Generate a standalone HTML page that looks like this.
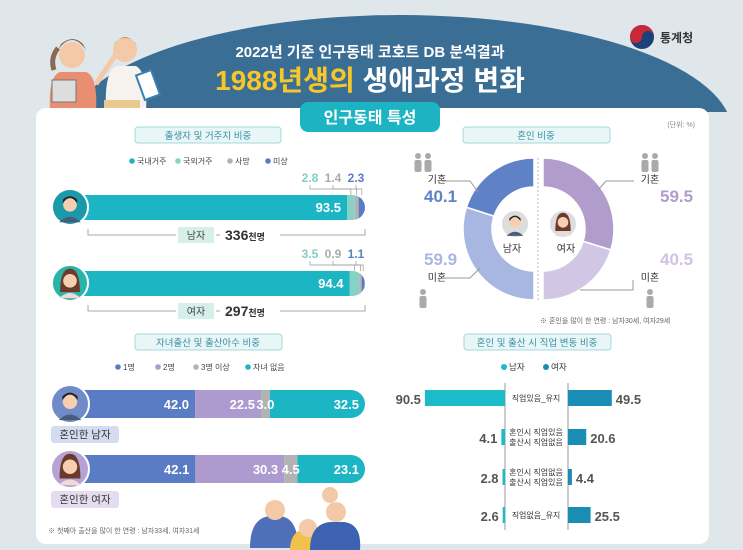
<!DOCTYPE html>
<html><head><meta charset="utf-8"><style>
html,body{margin:0;padding:0;background:#dfe7eb;}
svg{display:block;font-family:"Liberation Sans","Noto Sans CJK KR",sans-serif;}
.c{text-anchor:middle}
</style></head><body>
<svg id="s" width="743" height="550" viewBox="0 0 743 550">
<rect x="0" y="0" width="743" height="550" fill="#dfe7eb"/>
<clipPath id="dc"><rect x="0" y="0" width="743" height="112"/></clipPath>
<ellipse cx="400" cy="132" rx="332" ry="117" fill="#3b6e95" clip-path="url(#dc)"/>
<g>
<circle cx="72" cy="55" r="13" fill="#f3c9a8"/><path d="M58 50 q14-20 28 0 l-3-6 q-10-10-22 0z" fill="#8a6a55"/><path d="M58 48 q-8 10 -4 22" stroke="#8a6a55" stroke-width="5" fill="none"/>
<path d="M50 112 q-2-36 10-40 h26 q12 4 10 40z" fill="#e98e70"/>
<rect x="52" y="80" width="24" height="22" fill="#ddd" stroke="#777"/>
<path d="M96 84 l20-30" stroke="#f3c9a8" stroke-width="5"/>
<circle cx="125" cy="50" r="12" fill="#f3c9a8"/><path d="M113 46 q12-18 24 0 q-4-8-12-8 q-8 0-12 8z" fill="#d9874c"/>
<path d="M106 112 q-2-40 10-46 h20 q12 6 10 46z" fill="#f6f3ef"/>
<rect x="104" y="100" width="36" height="12" fill="#e9c98e"/>
<rect x="140" y="72" width="16" height="26" fill="#fff" stroke="#3a80b0" stroke-width="2" transform="rotate(-20 148 85)"/>
</g>
<text x="370" y="57" class="c" font-size="15" font-weight="bold" fill="#fff">2022년 기준 인구동태 코호트 DB 분석결과</text>
<text x="370" y="90" class="c" font-size="28" font-weight="bold"><tspan fill="#f7c72a">1988년생의</tspan><tspan fill="#fff"> 생애과정 변화</tspan></text>
<g>
<circle cx="642" cy="37" r="12" fill="#1d3f7a"/><path d="M630 37 a12 12 0 0 1 24 0 a6 6 0 0 0-12 0 a6 6 0 0 1-12 0z" fill="#c8283a"/>
<text x="660" y="42" font-size="12" font-weight="bold" fill="#333">통계청</text>
</g>
<rect x="36" y="108" width="673" height="436" rx="10" fill="#fff"/>
<rect x="300" y="102" width="140" height="30" rx="8" fill="#1cb3c3"/>
<text x="370" y="123" class="c" font-size="16" font-weight="bold" fill="#fff">인구동태 특성</text>
<text x="695" y="127" font-size="7" fill="#888" text-anchor="end">(단위: %)</text>

<g>
<rect x="135" y="127" width="146" height="16" rx="3" fill="#e8f6f7" stroke="#a6d9dc"/><text x="208" y="139" class="c" font-size="9.5" fill="#3a8fa0">출생자 및 거주지 비중</text>
<rect x="463" y="127" width="147" height="16" rx="3" fill="#e8f6f7" stroke="#a6d9dc"/><text x="536" y="139" class="c" font-size="9.5" fill="#3a8fa0">혼인 비중</text>
<rect x="135" y="334" width="147" height="16" rx="3" fill="#e8f6f7" stroke="#a6d9dc"/><text x="208" y="346" class="c" font-size="9.5" fill="#3a8fa0">자녀출산 및 출산아수 비중</text>
<rect x="464" y="334" width="147" height="16" rx="3" fill="#e8f6f7" stroke="#a6d9dc"/><text x="537" y="346" class="c" font-size="9.5" fill="#3a8fa0">혼인 및 출산 시 직업 변동 비중</text>
</g>
<g id="g1"></g>
<g id="g2"></g>
<g id="g3"></g>
<g id="g4"></g>
<text x="540" y="323" font-size="7" fill="#666">※ 혼인을 많이 한 연령 : 남자30세, 여자29세</text>
<text x="48" y="533" font-size="7" fill="#666">※ 첫째아 출산을 많이 한 연령 : 남자33세, 여자31세</text>
<g>
<path d="M250 548 q0-30 20-32 h10 q18 2 18 32z" fill="#4f6fb8"/><circle cx="275" cy="510" r="10" fill="#f3c9a8"/>
<path d="M290 550 q0-20 18-22 q18 2 18 22z" fill="#f0c14b"/><circle cx="308" cy="528" r="9" fill="#f3c9a8"/>
<path d="M310 550 q0-26 20-28 h14 q18 2 16 28z" fill="#3d63b0"/><circle cx="336" cy="512" r="10" fill="#f3c9a8"/><circle cx="330" cy="495" r="8" fill="#f3c9a8"/>
</g>
</svg>
<script>
// ===== Chart 1: birth & residence =====
var resCats=["국내거주","국외거주","사망","미상"];
var resMale=[93.5,2.8,1.4,2.3];
var resFemale=[94.4,3.5,0.9,1.1];
var resTotals=["336","297"];
// ===== Chart 2: marriage =====
var marCats=["기혼","미혼"];
var marMale=[40.1,59.9];
var marFemale=[59.5,40.5];
// ===== Chart 3: children =====
var kidCats=["1명","2명","3명 이상","자녀 없음"];
var kidMale=[42.0,22.5,3.0,32.5];
var kidFemale=[42.1,30.3,4.5,23.1];
// ===== Chart 4: job change =====
var jobCats=[["직업있음_유지"],["혼인시 직업있음","출산시 직업없음"],["혼인시 직업없음","출산시 직업있음"],["직업없음_유지"]];
var jobMale=[90.5,4.1,2.8,2.6];
var jobFemale=[49.5,20.6,4.4,25.5];

var NS="http://www.w3.org/2000/svg";
function mk(p,t,a,txt){var e=document.createElementNS(NS,t);for(var k in a)e.setAttribute(k,a[k]);if(txt!==undefined)e.textContent=txt;p.appendChild(e);return e;}
function fmt(v){return v.toFixed(1);}

function avatar(p,cx,cy,r,bg,female){
 var g=mk(p,"g",{});
 
 
 mk(g,"circle",{cx:cx,cy:cy,r:r,fill:bg,stroke:"#fff","stroke-width":2});
 if(female){mk(g,"path",{d:"M"+(cx-r*0.55)+" "+(cy+r*0.5)+" q0 "+(-r*1.3)+" "+(r*0.55)+" "+(-r*1.3)+" q"+(r*0.55)+" 0 "+(r*0.55)+" "+(r*1.3)+"z",fill:"#6b3a2a"});}
 mk(g,"circle",{cx:cx,cy:cy-r*0.12,r:r*0.38,fill:"#f6cfb2"});
 if(!female){mk(g,"path",{d:"M"+(cx-r*0.4)+" "+(cy-r*0.2)+" q"+(r*0.4)+" "+(-r*0.6)+" "+(r*0.8)+" 0 v"+(-r*0.2)+" q"+(-r*0.4)+" "+(-r*0.4)+" "+(-r*0.8)+" 0z",fill:"#222"});}
 mk(g,"path",{d:"M"+(cx-r*0.6)+" "+(cy+r*0.85)+" q"+(r*0.6)+" "+(-r*0.6)+" "+(r*1.2)+" 0z",fill:female?"#f2d8d8":"#4a5a7a"});
}

// ---- chart 1
(function(){
 var g=document.getElementById("g1");
 var cols=["#1bb5c4","#86d2c6","#b3b3b3","#5a7cc4"];
 var x0=88,W=277;
 function sx(v){return W*v/100;}
 var lx=[132,178,230,268];
 for(var i=0;i<resCats.length;i++){
  var le=mk(g,"g",{});
  
  
  mk(le,"circle",{cx:lx[i],cy:161,r:2.8,fill:cols[i]});
  mk(le,"text",{x:lx[i]+5,y:164,"font-size":8,fill:"#444"},resCats[i]);
 }
 var rows=[resMale,resFemale],ys=[195,271],names=["남자","여자"];
 rows.forEach(function(vals,ri){
  var y=ys[ri],h=25,x=x0;
  var bg=mk(g,"g",{});
  
  
  var clip=mk(g,"clipPath",{id:"c1"+ri});
  mk(clip,"rect",{x:x0-20,y:y,width:W+20,height:h,rx:12.5});
  var inner=mk(bg,"g",{"clip-path":"url(#c1"+ri+")"});
  var ends=[];
  vals.forEach(function(v,i){
   var w=sx(v);
   var r=mk(inner,"rect",{x:i==0?x-20:x,y:y,width:i==0?w+20:w,height:h,fill:cols[i]});
   
   ends.push(x+w);
   x+=w;
  });
  mk(bg,"text",{x:ends[0]-6,y:y+17,"font-size":13,"font-weight":"bold",fill:"#fff","text-anchor":"end"},fmt(vals[0]));
  var lc=["#7fcfc0","#aaa","#5a7cc4"],tx=[310,333,356];
  for(var k=1;k<4;k++){
   var mid=ends[k-1]+(ends[k]-ends[k-1])/2;
   mk(bg,"text",{x:tx[k-1],y:y-13,"font-size":12,"font-weight":"bold",fill:lc[k-1],"text-anchor":"middle"},fmt(vals[k]));
   mk(bg,"polyline",{points:tx[k-1]+","+(y-10)+" "+tx[k-1]+","+(y-6)+" "+mid+","+(y-6)+" "+mid+","+y,fill:"none",stroke:"#999","stroke-width":0.7});
  }
  avatar(g,70,y+12,18,ri?"#2ab3a8":"#1a9aa8",ri==1);
  var by=y+40;
  mk(g,"polyline",{points:"88,"+(by-6)+" 88,"+by+" 365,"+by+" 365,"+(by-6),fill:"none",stroke:"#aaa","stroke-width":1});
  mk(g,"rect",{x:176,y:by-9,width:40,height:17,fill:"#fff"});
  mk(g,"rect",{x:178,y:by-8,width:36,height:16,fill:"#d6efe9"});
  mk(g,"text",{x:196,y:by+4,"font-size":10,fill:"#444","text-anchor":"middle"},names[ri]);
  mk(g,"rect",{x:220,y:by-8,width:60,height:16,fill:"#fff"});
  var t=mk(g,"text",{x:225,y:by+5,"font-size":14,"font-weight":"bold",fill:"#333"});
  
  
  mk(t,"tspan",{},resTotals[ri]);
  mk(t,"tspan",{"font-size":9},"천명");
 });
})();

// ---- chart 2
(function(){
 var g=document.getElementById("g2");
 var cy=229,R=71,r=42;
 mk(g,"line",{x1:538,y1:158,x2:538,y2:302,stroke:"#bbb","stroke-dasharray":"2,2"});
 function pt(cx,rad,deg){var a=deg*Math.PI/180;return (cx+rad*Math.sin(a))+","+(cy-rad*Math.cos(a));}
 function arc(cx,a0,a1,col,name){
  var p1=pt(cx,R,a0),p2=pt(cx,R,a1),p3=pt(cx,r,a1),p4=pt(cx,r,a0);
  var lg=Math.abs(a1-a0)>180?1:0;
  var e=mk(g,"path",{d:"M"+p1+" A"+R+","+R+" 0 "+lg+",1 "+p2+" L"+p3+" A"+r+","+r+" 0 "+lg+",0 "+p4+"Z",fill:col,stroke:"#fff","stroke-width":1.5});
  
  
 }
 var cxm=534,cxf=543;
 var aU=180+marMale[1]/100*180;
 arc(cxm,180,aU,"#a7b7e2","donut-male-single");
 arc(cxm,aU,360,"#5f81c6","donut-male-married");
 var aM=marFemale[0]/100*180;
 arc(cxf,0,aM,"#b19dcc","donut-female-married");
 arc(cxf,aM,180,"#d1c6e3","donut-female-single");
 avatar(g,515,224,14,"#ddd",false);
 avatar(g,563,224,14,"#ddd",true);
 mk(g,"text",{x:512,y:252,"font-size":10,fill:"#333","text-anchor":"middle"},"남자");
 mk(g,"text",{x:566,y:252,"font-size":10,fill:"#333","text-anchor":"middle"},"여자");
 var L=[[437,183,"기혼",424,202,fmt(marMale[0]),"#5f81c6"],[437,281,"미혼",424,265,fmt(marMale[1]),"#a7b7e2"],
        [650,183,"기혼",660,202,fmt(marFemale[0]),"#b19dcc"],[650,281,"미혼",660,265,fmt(marFemale[1]),"#cfc2e3"]];
 L.forEach(function(l){
  mk(g,"text",{x:l[0],y:l[1],"font-size":10,fill:"#333","text-anchor":"middle"},l[2]);
  var v=mk(g,"text",{x:l[3],y:l[4],"font-size":17,"font-weight":"bold",fill:l[6]},l[5]);
  
  
 });
 mk(g,"polyline",{points:"442,181 470,181 478,192",fill:"none",stroke:"#999"});
 mk(g,"polyline",{points:"442,278 470,278 480,268",fill:"none",stroke:"#999"});
 mk(g,"polyline",{points:"634,181 606,181 598,190",fill:"none",stroke:"#999"});
 mk(g,"polyline",{points:"633,280 633,290 580,290",fill:"none",stroke:"#999"});
 [[423,162,2],[650,162,2],[423,298,1],[650,298,1]].forEach(function(p){
  for(var k=0;k<p[2];k++){var x=p[0]+(p[2]==2?k*10-5:0);
   mk(g,"circle",{cx:x,cy:p[1]-6,r:3,fill:"#aaa"});mk(g,"rect",{x:x-3.5,y:p[1]-2,width:7,height:12,rx:2,fill:"#aaa"});}
 });
})();

// ---- chart 3
(function(){
 var g=document.getElementById("g3");
 var cols=["#5a7cc4","#ad9ace","#b3b3b3","#1bb5c4"];
 var x0=72,scale=2.93;
 function sx(v){return v*scale;}
 var lx=[118,158,196,248];
 for(var i=0;i<kidCats.length;i++){
  var le=mk(g,"g",{});
  
  
  mk(le,"circle",{cx:lx[i],cy:367,r:2.8,fill:cols[i]});
  mk(le,"text",{x:lx[i]+5,y:370,"font-size":8,fill:"#444"},kidCats[i]);
 }
 var rows=[kidMale,kidFemale],ys=[390,455],lab=["혼인한 남자","혼인한 여자"],lbg=["#d6dcf0","#e4ddf0"];
 rows.forEach(function(vals,ri){
  var y=ys[ri],h=28,x=x0;
  var clip=mk(g,"clipPath",{id:"c3"+ri});
  mk(clip,"rect",{x:x0-20,y:y,width:sx(100)+20,height:h,rx:14});
  var inner=mk(g,"g",{"clip-path":"url(#c3"+ri+")"});
  
  
  vals.forEach(function(v,i){
   var w=sx(v);
   var r=mk(inner,"rect",{x:x,y:y,width:w,height:h,fill:cols[i]});
   
   var tx=(i==2)?x+w/2:x+w-6;
   mk(g,"text",{x:tx,y:y+19,"font-size":13,"font-weight":"bold",fill:"#fff","text-anchor":i==2?"middle":"end"},fmt(v));
   x+=w;
  });
  avatar(g,70,y+14,19,ri?"#b4a3d4":"#6f8cc9",ri==1);
  mk(g,"rect",{x:51,y:y+36,width:68,height:17,rx:3,fill:lbg[ri]});
  mk(g,"text",{x:85,y:y+48,"font-size":10.5,fill:"#333","text-anchor":"middle"},lab[ri]);
 });
})();

// ---- chart 4
(function(){
 var g=document.getElementById("g4");
 var xl=505,xr=568,k=0.885;
 mk(g,"circle",{cx:504,cy:367,r:3,fill:"#1bbcc8"});mk(g,"text",{x:509,y:370,"font-size":8.5,fill:"#333"},"남자");
 mk(g,"circle",{cx:546,cy:367,r:3,fill:"#1a8db5"});mk(g,"text",{x:551,y:370,"font-size":8.5,fill:"#333"},"여자");
 mk(g,"line",{x1:xl,y1:383,x2:xl,y2:530,stroke:"#999"});
 mk(g,"line",{x1:xr,y1:383,x2:xr,y2:530,stroke:"#999"});
 var ys=[398,437,477,515];
 jobCats.forEach(function(c,i){
  var y=ys[i];
  var wm=jobMale[i]*k,wf=jobFemale[i]*k;
  var bm=mk(g,"rect",{x:xl-wm,y:y-8,width:wm,height:16,fill:"#1bbcc8"});
  
  
  var bf=mk(g,"rect",{x:xr,y:y-8,width:wf,height:16,fill:"#1a8db5"});
  
  
  mk(g,"text",{x:xl-wm-4,y:y+6,"font-size":13,"font-weight":"bold",fill:"#555","text-anchor":"end"},fmt(jobMale[i]));
  mk(g,"text",{x:xr+wf+4,y:y+6,"font-size":13,"font-weight":"bold",fill:"#555"},fmt(jobFemale[i]));
  c.forEach(function(s,j){
   mk(g,"text",{x:536,y:y+3-(c.length-1)*5+j*10,"font-size":8,fill:"#333","text-anchor":"middle"},s);
  });
 });
})();
</script>
</body></html>
